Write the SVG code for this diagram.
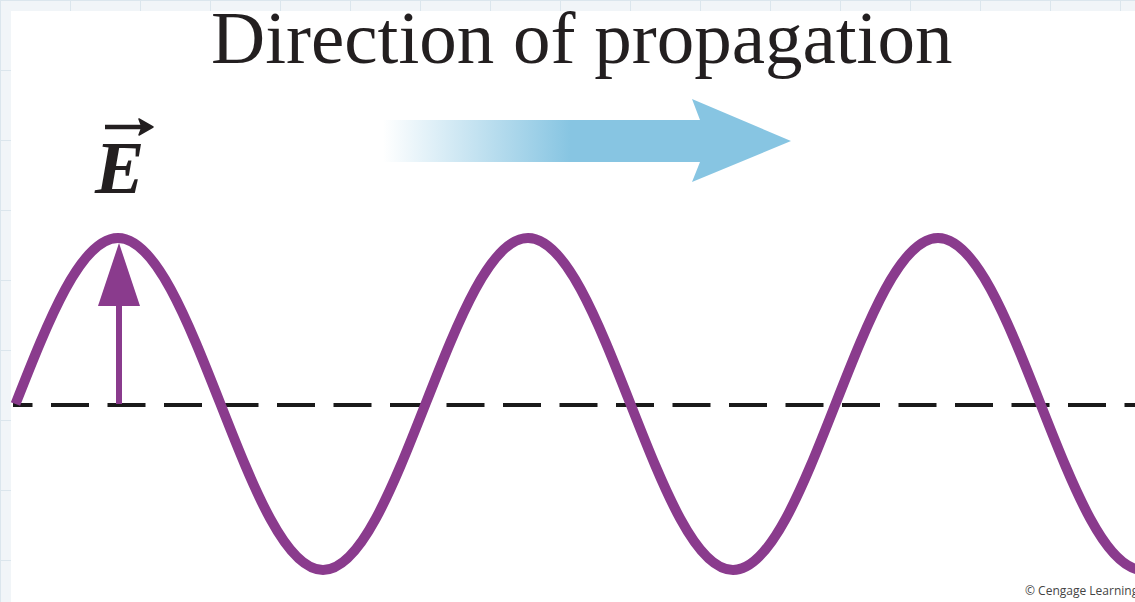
<svg xmlns="http://www.w3.org/2000/svg" width="1135" height="602" viewBox="0 0 1135 602">
  <style>
    .title { font-family: "Liberation Serif", "Times New Roman", serif; font-size: 75px; fill: #231f20; }
    .evec { font-family: "Liberation Serif", "Times New Roman", serif; font-size: 74px; font-weight: bold; font-style: italic; fill: #231f20; }
    .credit { font-family: "Open Sans", "Liberation Sans", sans-serif; font-size: 12px; fill: #444; }
    .wave { fill: none; stroke: #8a3b8d; stroke-width: 10; stroke-linecap: butt; }
    .axis { stroke: #1a1a1a; stroke-width: 4; stroke-dasharray: 38 18.5; stroke-dashoffset: 18.5; }
  </style>
  <defs>
    <linearGradient id="blueFade" gradientUnits="userSpaceOnUse" x1="383" y1="0" x2="570" y2="0">
      <stop offset="0" stop-color="#87c5e2" stop-opacity="0"/>
      <stop offset="1" stop-color="#87c5e2" stop-opacity="1"/>
    </linearGradient>
    <pattern id="grid" width="70" height="70" patternUnits="userSpaceOnUse">
      <rect width="70" height="70" fill="#f1f5f8"/>
      <path d="M0 0.5 H70 M0.5 0 V70" stroke="#dbe6ed" stroke-width="1"/>
    </pattern>
  </defs>

  <rect x="0" y="0" width="1135" height="602" fill="url(#grid)"/>
  <rect x="11" y="11" width="1124" height="591" fill="#ffffff"/>

  <g id="title">
    <text class="title" x="211" y="63">Direction of propagation</text>
  </g>

  <g id="propagation-arrow">
    <path d="M383,120 H700 L692,99 L791,141 L692,182 L700,162 H383 Z" fill="url(#blueFade)"/>
  </g>

  <g id="e-label">
    <text class="evec" x="95" y="193">E</text>
    <line x1="105" y1="127" x2="146" y2="127" stroke="#231f20" stroke-width="4.5"/>
    <path d="M139,119 L153,127 L139,135 L142,127 Z" fill="#231f20" stroke="#231f20" stroke-width="1.5" stroke-linejoin="round"/>
  </g>

  <g id="axis">
    <line class="axis" x1="13" y1="405" x2="1135" y2="405"/>
  </g>

  <g id="wave">
    <path class="wave" d="M15.5,404 C48.93,318.96 80.9,238 118,238 C155.1,238 187.07,318.96 220.5,404 C253.93,489.04 285.9,570 323,570 C360.1,570 392.07,489.04 425.5,404 C458.93,318.96 490.9,238 528,238 C565.1,238 597.07,318.96 630.5,404 C663.93,489.04 695.9,570 733,570 C770.1,570 802.07,489.04 835.5,404 C868.93,318.96 900.9,238 938,238 C975.1,238 1007.07,318.96 1040.5,404 C1073.93,489.04 1105.9,570 1143,570"/>
  </g>

  <g id="e-field-vector">
    <line x1="119" y1="404" x2="119" y2="300" stroke="#8a3b8d" stroke-width="6"/>
    <path d="M119,243 L140,306 L98,306 Z" fill="#8a3b8d"/>
  </g>

  <g id="credit">
    <text class="credit" x="1025" y="595">© Cengage Learning</text>
  </g>
</svg>
